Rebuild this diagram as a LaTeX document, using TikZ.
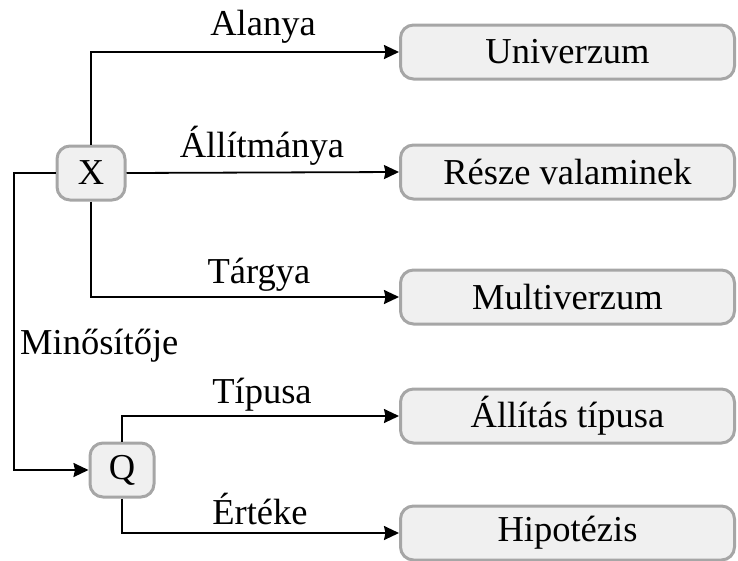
\documentclass[tikz,border=0pt]{standalone}
\usepackage{fontspec}
\setmainfont{Liberation Serif}
\usetikzlibrary{arrows.meta}
\definecolor{boxfill}{HTML}{F0F0F0}
\definecolor{boxline}{HTML}{A6A6A6}
\begin{document}
\begin{tikzpicture}[x=1pt,y=-1pt,
  every node/.style={font=\fontsize{36.5}{42}\selectfont},
  box/.style={draw=boxline, fill=boxfill, line width=3pt, rounded corners=13pt, minimum height=54pt, inner sep=0pt},
  bigbox/.style={box, minimum width=334pt},
  smallbox/.style={box, minimum width=68pt},
  arr/.style={draw=black, line width=1.8pt, -{Stealth[length=15pt,width=14pt,inset=1.5pt]}},
  lbl/.style={inner sep=0pt, anchor=base}]
\useasboundingbox (0,0) rectangle (738,560);
\node[bigbox] (U) at (567.5,52) {Univerzum};
\node[bigbox] (R) at (567.5,172) {Része valaminek};
\node[bigbox] (M) at (567.5,297) {Multiverzum};
\node[bigbox] (A) at (567.5,416) {Állítás típusa};
\node[bigbox] (H) at (567.5,533) {Hipotézis};
\node[smallbox] (X) at (91,173) {X};
\node[smallbox, minimum width=64pt] (Q) at (122,470) {Q};
\coordinate (L) at (14,173);
\draw[arr] (X.north) |- (U.west);
\draw[arr] (X.east) -- (R.west);
\draw[arr] (X.south) |- (M.west);
\draw[arr] (X.west) -- (L) |- (Q.west);
\draw[arr] (Q.north) |- (A.west);
\draw[arr] (Q.south) |- (H.west);
\node[lbl] (la) at (263,35) {Alanya};
\node[lbl] (lb) at (262,157) {Állítmánya};
\node[lbl] (lc) at (259,283) {Tárgya};
\node[lbl, anchor=base west] (ld) at (20,354) {Minősítője};
\node[lbl] (le) at (262,403) {Típusa};
\node[lbl] (lf) at (260,524) {Értéke};
\end{tikzpicture}
\end{document}
